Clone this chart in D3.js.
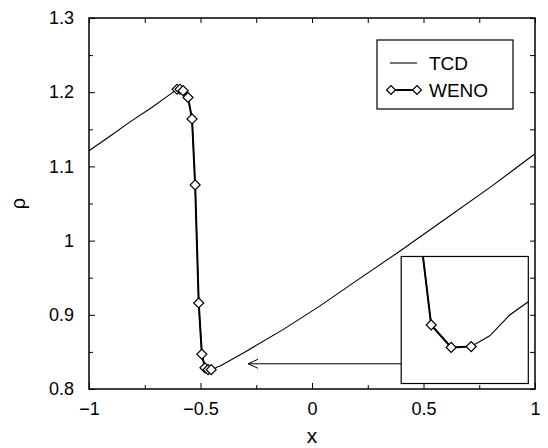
<!DOCTYPE html>
<html>
<head>
<meta charset="utf-8">
<script src="https://cdn.jsdelivr.net/npm/d3@7"></script>
<style>
  body { margin: 0; background: #fff; }
  svg { display: block; font-family: "Liberation Sans", Arial, sans-serif; }
</style>
</head>
<body>
<div id="chart"></div>
<script>
// TCD solution
var tcdX = [-1, -0.9, -0.816, -0.72, -0.646, -0.605, -0.592, -0.578, -0.556, -0.538, -0.524, -0.508, -0.494,
            -0.48, -0.466, -0.452, -0.439, -0.425, -0.41, -0.3, -0.13, 0.036, 0.2, 0.395, 0.574, 0.8, 1];
var tcdRho = [1.121, 1.142, 1.160, 1.179, 1.195, 1.204, 1.204, 1.202, 1.193, 1.164, 1.075, 0.916, 0.847,
              0.8285, 0.826, 0.8261, 0.8273, 0.8296, 0.8313, 0.850, 0.880, 0.912, 0.946, 0.986, 1.024, 1.072, 1.117];

// WENO points (diamonds)
var wenoX = [-0.605, -0.592, -0.578, -0.556, -0.538, -0.524, -0.508, -0.494, -0.48, -0.466, -0.452];
var wenoRho = [1.204, 1.204, 1.202, 1.193, 1.164, 1.075, 0.916, 0.847, 0.8285, 0.826, 0.8261];

var xTicks = [-1, -0.5, 0, 0.5, 1];
var xTickLabels = ["\u22121", "\u22120.5", "0", "0.5", "1"];
var xMinor = [-0.75, -0.25, 0.25, 0.75];
var yTicks = [0.8, 0.9, 1, 1.1, 1.2, 1.3];
var yTickLabels = ["0.8", "0.9", "1", "1.1", "1.2", "1.3"];
var yMinor = [0.85, 0.95, 1.05, 1.15, 1.25];

var seriesNames = ["TCD", "WENO"];

// inset: where it sits (main units) and what it shows
var insetBox = { x0: 0.4, x1: 0.97, y0: 0.8074, y1: 0.9786 };
var insetView = { x0: -0.501, x1: -0.412, y0: 0.822, y1: 0.8361 };
var arrowFrom = 0.4, arrowTo = -0.287, arrowRho = 0.834;

function drawChart() {
    var w = 548, h = 448;
    var svg = d3.select("#chart").append("svg").attr("width", w).attr("height", h);

    var x = d3.scaleLinear().domain([-1, 1]).range([89, 535]);
    var y = d3.scaleLinear().domain([0.8, 1.3]).range([389, 18]);

    var tcd = tcdX.map((v, i) => ({ x: v, y: tcdRho[i] }));
    var weno = wenoX.map((v, i) => ({ x: v, y: wenoRho[i] }));

    // ticks (all inward)
    function tickAxis(axis, tr) {
        var g = svg.append("g").attr("transform", tr).call(axis);
        g.select(".domain").remove();
        g.selectAll(".tick line").attr("stroke", "#000").attr("stroke-width", 1);
        g.selectAll("text").attr("fill", "#000").style("font-size", "18px");
        return g;
    }
    tickAxis(d3.axisBottom(x).tickValues(xTicks).tickSize(-6).tickPadding(13)
        .tickFormat((d, i) => xTickLabels[i]), `translate(0,${y(0.8)})`);
    tickAxis(d3.axisBottom(x).tickValues(xMinor).tickSize(-4).tickFormat(""), `translate(0,${y(0.8)})`);
    tickAxis(d3.axisTop(x).tickValues(xTicks.concat(xMinor)).tickSize(-5).tickFormat(""), `translate(0,${y(1.3)})`);
    tickAxis(d3.axisLeft(y).tickValues(yTicks).tickSize(-6).tickPadding(15)
        .tickFormat((d, i) => yTickLabels[i]), `translate(${x(-1)},0)`);
    tickAxis(d3.axisLeft(y).tickValues(yMinor).tickSize(-4).tickFormat(""), `translate(${x(-1)},0)`);
    tickAxis(d3.axisRight(y).tickValues(yTicks.concat(yMinor)).tickSize(-5).tickFormat(""), `translate(${x(1)},0)`);

    // frame
    svg.append("rect")
        .attr("x", x(-1)).attr("y", y(1.3))
        .attr("width", x(1) - x(-1)).attr("height", y(0.8) - y(1.3))
        .attr("fill", "none").attr("stroke", "#000").attr("stroke-width", 1.5);

    // axis titles
    svg.append("text").attr("x", x(0)).attr("y", 443).attr("text-anchor", "middle")
        .style("font-size", "21px").text("x");
    svg.append("text").attr("transform", `translate(25,${y(1.05)}) rotate(-90)`)
        .attr("text-anchor", "middle").style("font-size", "20px").text("\u03c1");

    function drawSeries(g, xs, ys) {
        var line = d3.line().x(d => xs(d.x)).y(d => ys(d.y));
        g.append("path").datum(tcd).attr("d", line)
            .attr("fill", "none").attr("stroke", "#000").attr("stroke-width", 1.1);
        g.append("path").datum(weno).attr("d", line)
            .attr("fill", "none").attr("stroke", "#000").attr("stroke-width", 2);
        g.selectAll(".dia").data(weno).enter().append("path")
            .attr("d", d3.symbol().type(d3.symbolSquare).size(50))
            .attr("transform", d => `translate(${xs(d.x)},${ys(d.y)}) rotate(45)`)
            .attr("fill", "#fff").attr("stroke", "#000").attr("stroke-width", 1.2);
    }

    drawSeries(svg.append("g"), x, y);

    // inset
    var bx0 = x(insetBox.x0), bx1 = x(insetBox.x1), by0 = y(insetBox.y1), by1 = y(insetBox.y0);
    svg.append("clipPath").attr("id", "insetClip").append("rect")
        .attr("x", bx0).attr("y", by0).attr("width", bx1 - bx0).attr("height", by1 - by0);
    svg.append("rect").attr("x", bx0).attr("y", by0).attr("width", bx1 - bx0).attr("height", by1 - by0)
        .attr("fill", "#fff");
    var ix = d3.scaleLinear().domain([insetView.x0, insetView.x1]).range([bx0, bx1]);
    var iy = d3.scaleLinear().domain([insetView.y0, insetView.y1]).range([by1, by0]);
    drawSeries(svg.append("g").attr("clip-path", "url(#insetClip)"), ix, iy);
    svg.append("rect").attr("x", bx0).attr("y", by0).attr("width", bx1 - bx0).attr("height", by1 - by0)
        .attr("fill", "none").attr("stroke", "#000").attr("stroke-width", 1.2);

    // arrow
    var ay = y(arrowRho), tip = x(arrowTo);
    svg.append("line").attr("x1", x(arrowFrom)).attr("x2", tip).attr("y1", ay).attr("y2", ay)
        .attr("stroke", "#000").attr("stroke-width", 1);
    svg.append("path").attr("d", `M${tip + 10},${ay - 4.5}L${tip},${ay}L${tip + 10},${ay + 4.5}`)
        .attr("fill", "none").attr("stroke", "#000").attr("stroke-width", 1);

    // legend
    var lg = svg.append("g");
    lg.append("rect").attr("x", 377).attr("y", 40).attr("width", 136).attr("height", 69)
        .attr("fill", "#fff").attr("stroke", "#000").attr("stroke-width", 1.2);
    lg.append("line").attr("x1", 390).attr("x2", 417).attr("y1", 63).attr("y2", 63)
        .attr("stroke", "#000").attr("stroke-width", 1.1);
    lg.append("line").attr("x1", 391).attr("x2", 417).attr("y1", 90).attr("y2", 90)
        .attr("stroke", "#000").attr("stroke-width", 2);
    [391, 417].forEach(px => {
        lg.append("path").attr("d", d3.symbol().type(d3.symbolSquare).size(40))
            .attr("transform", `translate(${px},90) rotate(45)`)
            .attr("fill", "#fff").attr("stroke", "#000").attr("stroke-width", 1.2);
    });
    lg.selectAll(".lbl").data(seriesNames).enter().append("text")
        .attr("x", 429).attr("y", (d, i) => 69.5 + i * 27)
        .style("font-size", "19px").text(d => d);
}

drawChart();
</script>
</body>
</html>
